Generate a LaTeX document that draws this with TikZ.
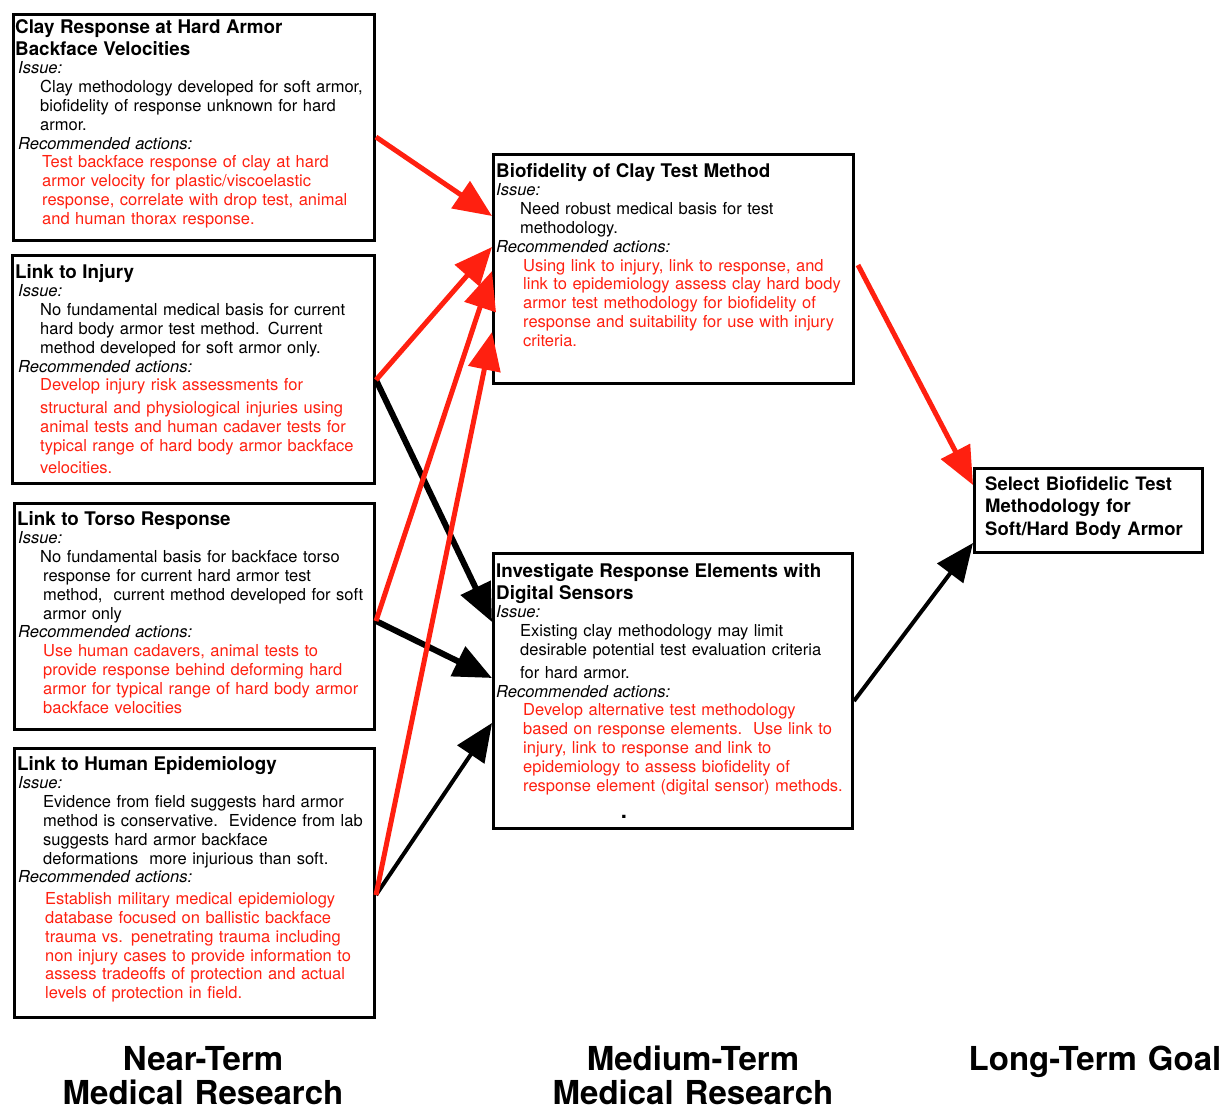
\documentclass[tikz,border=0pt]{standalone}
\usepackage{fontspec}
\setmainfont{TeX Gyre Heros}
\usepackage{tikz}
\usetikzlibrary{arrows.meta}
\usetikzlibrary{calc}
\usetikzlibrary{positioning}
\definecolor{actionred}{HTML}{FF2010}
\setlength{\parindent}{0pt}
\newcommand{\boxtitle}[1]{{\fontsize{18.8}{22}\selectfont\bfseries #1\par}}
\newcommand{\issuelabel}[1][3pt]{{\leftskip=#1\itshape Issue:\par}}
\newcommand{\actionlabel}[1][3pt]{{\leftskip=#1\itshape Recommended actions:\par}}
\newcommand{\issuetext}[2]{{\leftskip=#1 #2\par}}
\newcommand{\actiontext}[2]{{\leftskip=#1\color{actionred}#2\par}}

\begin{document}
\begin{tikzpicture}[
  x=1pt, y=-1pt,
  box/.style = {draw, line width=3pt, inner sep=0pt, anchor=north west},
  boxtext/.style = {anchor=base west, inner sep=0pt, text width=355pt, align=left, font=\fontsize{16.5}{18.8}\selectfont},
  redarrow/.style = {draw=actionred, line width=5pt, -{Triangle[length=38pt,width=32pt]}},
  blackarrow/.style = {draw=black, line width=4pt, -{Triangle[length=38pt,width=32pt]}},
  phase/.style = {anchor=base, inner sep=0pt, text width=340pt, align=center, font=\fontsize{33}{34}\selectfont\bfseries}
  ]
	\useasboundingbox (0,0) rectangle (1225,1112);

	% near-term boxes
	\node[box, minimum width=361pt, minimum height=226pt] (clay) at (12,13) {};
	\node[box, minimum width=362pt, minimum height=228pt] (injury) at (11,254) {};
	\node[box, minimum width=360pt, minimum height=226pt] (torso) at (13,502) {};
	\node[box, minimum width=360pt, minimum height=269pt] (epi) at (13,747) {};

	% medium-term boxes
	\node[box, minimum width=360pt, minimum height=229pt] (bio) at (492,153) {};
	\node[box, minimum width=359pt, minimum height=275pt] (inv) at (492,552) {};

	% goal
	\node[box, minimum width=228pt, minimum height=84pt] (goal) at (973,467) {};

	\node[boxtext] (claytxt) at (15,33) {%
		\boxtitle{Clay Response at Hard Armor\\Backface Velocities}
		\issuelabel
		\issuetext{25pt}{Clay methodology developed for soft armor,\\biofidelity of response unknown for hard\\armor.}
		\actionlabel
		\actiontext{27pt}{Test backface response of clay at hard\\armor velocity for plastic/viscoelastic\\response, correlate with drop test, animal\\and human thorax response.}
	};

	\node[boxtext] (injurytxt) at (15,278) {%
		\boxtitle{Link to Injury}
		\issuelabel
		\issuetext{25pt}{No fundamental medical basis for current\\hard body armor test method. Current\\method developed for soft armor only.}
		\actionlabel
		\actiontext{25pt}{Develop injury risk assessments for\\[4pt]structural and physiological injuries using\\animal tests and human cadaver tests for\\typical range of hard body armor backface\\[3pt]velocities.}
	};

	\node[boxtext] (torsotxt) at (17,525) {%
		\boxtitle{Link to Torso Response}
		\issuelabel[1pt]
		\issuetext{26pt}{\hspace*{-3pt}No fundamental basis for backface torso\\response for current hard armor test\\method,\ \ current method developed for soft\\armor only}
		\actionlabel[1pt]
		\actiontext{26pt}{Use human cadavers, animal tests to\\provide response behind deforming hard\\armor for typical range of hard body armor\\backface velocities}
	};

	\node[boxtext] (epitxt) at (17,770) {%
		\boxtitle{Link to Human Epidemiology}
		\issuelabel[1pt]
		\issuetext{26pt}{Evidence from field suggests hard armor\\method is conservative.\ \ Evidence from lab\\suggests hard armor backface\\deformations\ \ more injurious than soft.}
		\actionlabel[1pt]
		\vspace{3pt}
		\actiontext{28pt}{Establish military medical epidemiology\\database focused on ballistic backface\\trauma vs. penetrating trauma including\\non injury cases to provide information to\\assess tradeoffs of protection and actual\\levels of protection in field.}
	};

	\node[boxtext] (biotxt) at (496,177) {%
		\boxtitle{Biofidelity of Clay Test Method}
		\issuelabel[0pt]
		\issuetext{24pt}{Need robust medical basis for test\\methodology.}
		\actionlabel[0pt]
		\actiontext{27pt}{Using link to injury, link to response, and\\link to epidemiology assess clay hard body\\armor test methodology for biofidelity of\\response and suitability for use with injury\\criteria.}
	};

	\node[boxtext] (invtxt) at (496,577) {%
		\boxtitle{Investigate Response Elements with\\Digital Sensors}
		\issuelabel[0pt]
		\issuetext{24pt}{Existing clay methodology may limit\\desirable potential test evaluation criteria\\[4pt]for hard armor.}
		\actionlabel[0pt]
		\actiontext{27pt}{Develop alternative test methodology\\based on response elements.\ \ Use link to\\injury, link to response and link to\\epidemiology to assess biofidelity of\\response element (digital sensor) methods.}
	};
	\node[inner sep=0pt, anchor=base] (invdot) at (624,818) {\fontsize{22}{22}\selectfont\bfseries .};

	\node[boxtext, font=\fontsize{18.5}{22.5}\selectfont\bfseries] (goaltxt) at (985,490) {Select Biofidelic Test\\Methodology for\\Soft/Hard Body Armor};

	% near-term to medium-term
	\draw[blackarrow, line width=6pt] ($(injury.north east)+(0,126)$) -- ($(inv.north west)+(0,70)$);
	\draw[blackarrow, line width=6pt] ($(torso.north east)+(0,119)$) -- ($(inv.north west)+(0,126)$);
	\draw[blackarrow] ($(epi.north east)+(0,148)$) -- ($(inv.north west)+(0,171)$);
	\draw[redarrow] ($(clay.north east)+(0,124)$) -- ($(bio.north west)+(0,63)$);
	\draw[redarrow] ($(injury.north east)+(0,126)$) -- ($(bio.north west)+(0,94)$);
	\draw[redarrow] ($(torso.north east)+(0,119)$) -- ($(bio.north west)+(0,118)$);
	\draw[redarrow] ($(epi.north east)+(0,148)$) -- ($(bio.north west)+(0,179)$);

	% medium-term to goal
	\draw[redarrow] ($(bio.north east)+(3,112)$) -- ($(goal.north west)+(0,18)$);
	\draw[blackarrow] ($(inv.north east)+(0,149)$) -- ($(goal.north west)+(0,76)$);

	\node[phase] (nearterm) at (203,1070) {Near-Term\\Medical Research};
	\node[phase] (midterm) at (693,1070) {Medium-Term\\Medical Research};
	\node[phase] (longterm) at (1095,1070) {Long-Term Goal};

\end{tikzpicture}
\end{document}
